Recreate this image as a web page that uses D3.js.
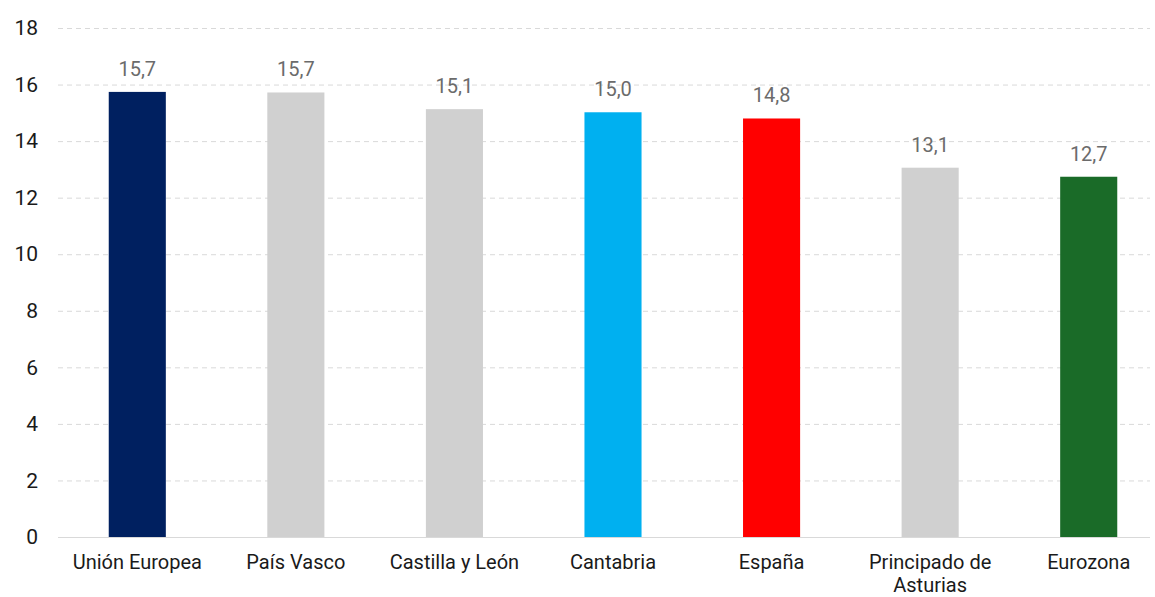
<!DOCTYPE html>
<html>
<head>
<meta charset="utf-8">
<script src="https://cdn.jsdelivr.net/npm/d3@7"></script>
<style>
  body { margin: 0; background: #fff; }
  text { font-family: Roboto, "Liberation Sans", sans-serif; }
</style>
</head>
<body>
<svg class="main-svg" width="1155" height="597"></svg>
<script>
// regions, values, colours
const categories = ["Unión Europea", "País Vasco", "Castilla y León", "Cantabria", "España", "Principado de\nAsturias", "Eurozona"];
const values = [15.74, 15.72, 15.13, 15.02, 14.8, 13.06, 12.74];
const barColors = ["#002060", "#d0d0d0", "#d0d0d0", "#00b0f0", "#ff0000", "#d0d0d0", "#1a6b28"];
const yTicks = [0, 2, 4, 6, 8, 10, 12, 14, 16, 18];

const svg = d3.select(".main-svg");
const plotLeft = 58, plotRight = 1168, plotTop = 28, plotBottom = 537;

const x = d3.scaleBand()
  .domain(categories)
  .range([plotLeft, plotRight])
  .paddingInner(0.64)
  .paddingOuter(0.32);

const y = d3.scaleLinear()
  .domain([0, 18])
  .range([plotBottom, plotTop]);

// grid
svg.append("g")
  .selectAll("line")
  .data(yTicks.filter(d => d > 0))
  .join("line")
    .attr("x1", plotLeft)
    .attr("x2", 1150)
    .attr("y1", d => y(d) + 0.5)
    .attr("y2", d => y(d) + 0.5)
    .attr("stroke", "#d9d9d9")
    .attr("stroke-dasharray", "5,4");

// bars
svg.append("g")
  .selectAll("rect")
  .data(values)
  .join("rect")
    .attr("x", (d, i) => x(categories[i]))
    .attr("width", x.bandwidth())
    .attr("y", d => y(d))
    .attr("height", d => y(0) - y(d))
    .attr("fill", (d, i) => barColors[i]);

// baseline
svg.append("line")
  .attr("x1", plotLeft)
  .attr("x2", 1150)
  .attr("y1", y(0) + 0.5)
  .attr("y2", y(0) + 0.5)
  .attr("stroke", "#d9d9d9")
  .attr("stroke-width", 1);

// value labels
svg.append("g")
  .selectAll("text")
  .data(values)
  .join("text")
    .attr("x", (d, i) => x(categories[i]) + x.bandwidth() / 2)
    .attr("y", d => y(d) - 16)
    .attr("text-anchor", "middle")
    .attr("font-size", 20)
    .attr("fill", "#6b6b6b")
    .text(d => d.toFixed(1).replace(".", ","));

// y axis
const yAxis = d3.axisLeft(y)
  .tickValues(yTicks)
  .tickSize(0)
  .tickPadding(0);

svg.append("g")
  .attr("transform", "translate(38,0)")
  .call(yAxis)
  .call(g => g.select(".domain").remove())
  .call(g => g.selectAll("text")
    .attr("font-size", 21)
    .attr("fill", "#1a1a1a")
    .attr("font-family", null));

// x labels
const xl = svg.append("g")
  .selectAll("text")
  .data(categories)
  .join("text")
    .attr("x", d => x(d) + x.bandwidth() / 2)
    .attr("y", 569)
    .attr("text-anchor", "middle")
    .attr("font-size", 20)
    .attr("fill", "#1a1a1a");

xl.selectAll("tspan")
  .data(d => d.split("\n"))
  .join("tspan")
    .attr("x", function() { return d3.select(this.parentNode).attr("x"); })
    .attr("dy", (d, i) => i ? 23 : 0)
    .text(d => d);
</script>
</body>
</html>
